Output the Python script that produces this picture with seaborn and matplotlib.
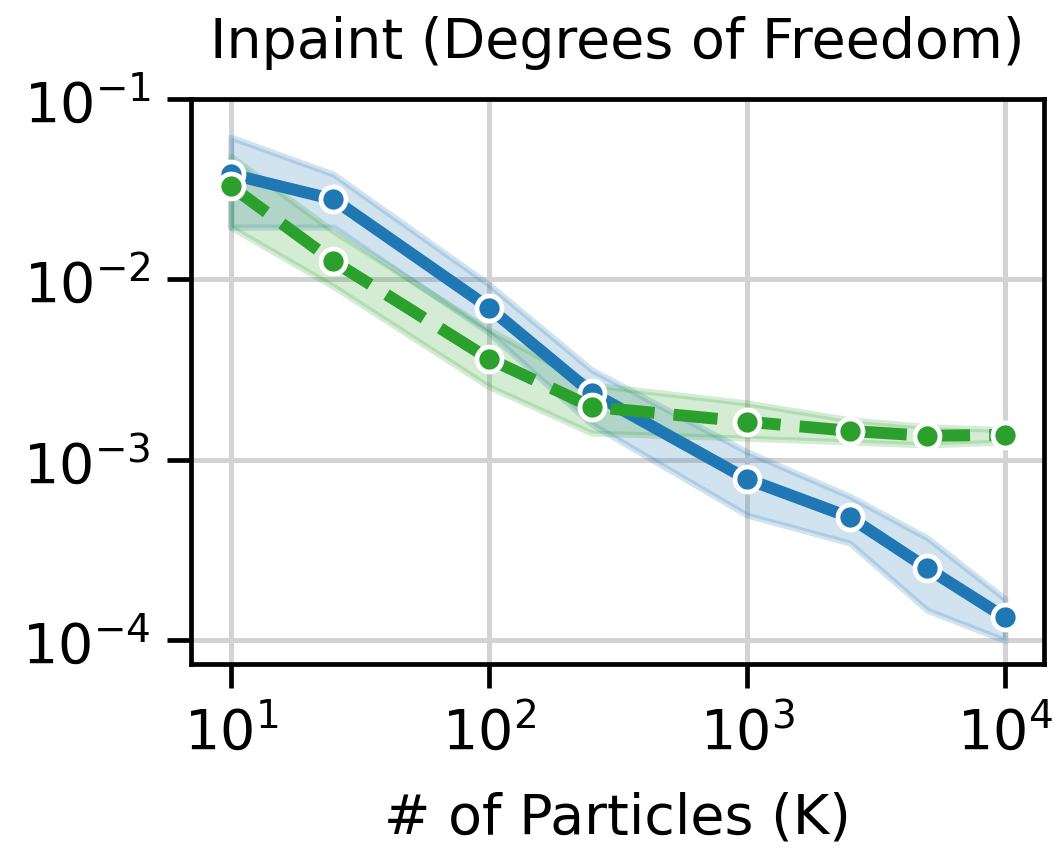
import numpy as np
import pandas as pd
import matplotlib
matplotlib.use('Agg')
import matplotlib.pyplot as plt
import seaborn as sns

# Dados
particles = [10, 25, 100, 250, 1000, 2500, 5000, 10000]

blue_mean = [0.0383, 0.0278, 0.00699, 0.00236, 7.84e-4, 4.82e-4, 2.51e-4, 1.34e-4]
blue_low = [0.0195, 0.0195, 0.00508, 0.00158, 4.95e-4, 3.47e-4, 1.47e-4, 1.0e-4]
blue_high = [0.0615, 0.0383, 0.0094, 0.00316, 0.00111, 6.3e-4, 3.7e-4, 1.7e-4]

green_mean = [0.0329, 0.0126, 0.00364, 0.00197, 0.00163, 0.00145, 0.00136, 0.00138]
green_low = [0.0195, 0.00915, 0.00255, 0.00141, 0.00132, 0.00126, 0.00121, 0.00126]
green_high = [0.0482, 0.0185, 0.00527, 0.00261, 0.00207, 0.00167, 0.00153, 0.00147]

blue = '#1f77b4'
green = '#2ca02c'

sns.set_style('ticks')
plt.rcParams['font.family'] = ['DejaVu Sans']
plt.rcParams['text.color'] = 'black'
plt.rcParams['axes.labelcolor'] = 'black'
plt.rcParams['xtick.color'] = 'black'
plt.rcParams['ytick.color'] = 'black'

df = pd.DataFrame({
    'K': particles * 2,
    'erro': blue_mean + green_mean,
    'serie': ['a'] * len(particles) + ['b'] * len(particles),
})

fig = plt.figure(figsize=(5.27, 4.31), dpi=200)
ax = fig.add_axes([0.181, 0.2285, 0.8095, 0.6555])

ax.fill_between(particles, blue_low, blue_high, color=blue, alpha=0.2, linewidth=2.2)
ax.fill_between(particles, green_low, green_high, color=green, alpha=0.2, linewidth=2.2)

sns.lineplot(data=df, x='K', y='erro', hue='serie', style='serie',
             palette=[blue, green], dashes=[(), (3.7, 1.6)], markers=['o', 'o'],
             linewidth=4.3, markersize=9.0, markeredgecolor='white', markeredgewidth=1.7,
             legend=False, ax=ax, zorder=3)

ax.set_xscale('log')
ax.set_yscale('log')
ax.set_ylim(7.4e-5, 1e-1)
ax.set_xlim(7.0, 14160)

ax.grid(True, color='#d3d3d3', linewidth=1.8)
ax.set_axisbelow(True)
for s in ax.spines.values():
    s.set_linewidth(1.7)
    s.set_color('black')
ax.tick_params(axis='both', which='major', labelsize=20, length=8.5, width=1.7, pad=6)
ax.tick_params(axis='both', which='minor', length=0)

ax.set_title('Inpaint (Degrees of Freedom)', fontsize=20, pad=15)
ax.set_xlabel('# of Particles (K)', fontsize=20, labelpad=11)
ax.set_ylabel('')

plt.savefig('out.png', dpi=200)
plt.close()
